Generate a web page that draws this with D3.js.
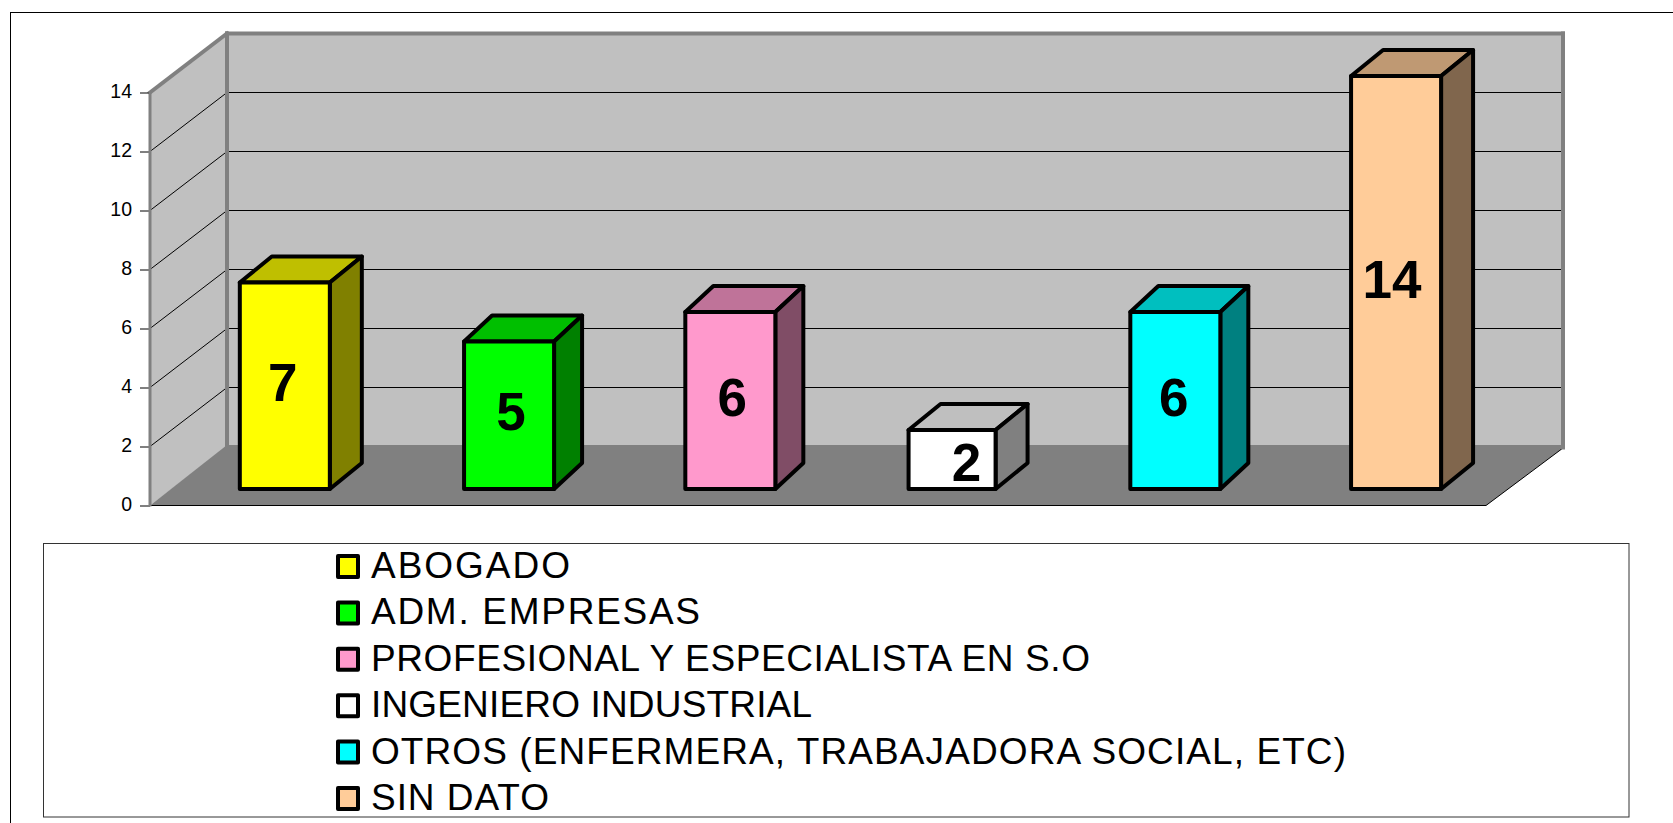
<!DOCTYPE html>
<html>
<head>
<meta charset="utf-8">
<script src="https://cdn.jsdelivr.net/npm/d3@7"></script>
<style>
  body { margin: 0; background: #fff; overflow: hidden; }
  text { font-family: "Liberation Sans", Arial, sans-serif; fill: #000; }
</style>
</head>
<body>
<div id="chart"></div>
<script>
const categories = ["ABOGADO", "ADM. EMPRESAS", "PROFESIONAL Y ESPECIALISTA EN S.O", "INGENIERO INDUSTRIAL", "OTROS (ENFERMERA, TRABAJADORA SOCIAL, ETC)", "SIN DATO"];
const values = [7, 5, 6, 2, 6, 14];
const colors = ["#ffff00", "#00ff00", "#ff99cc", "#ffffff", "#00ffff", "#ffcc99"];
const yTicks = [0, 2, 4, 6, 8, 10, 12, 14];

// layout
const wallDepth = { x: 77, y: -59 };   // front of the box to the back wall
const barPlane = { x: 23.7, y: -16.5 }; // where the bars stand on the floor
const barRise = -26;
const barNudge = [0, 2, 1, 2, 1.5, 0];        // source bars are unevenly spaced
const barTrim = [0, 0, 0, 3, 0, 0];           // the white bar is a little narrower
const barDepths = [32, 28, 28, 32, 28, 32];   // and the side faces differ a bit
const labelNudge = [-2, 2, 2, 13, -1.5, -4];  // the source labels are not quite centred
const labelLift = [0, 0, 0, 6, 0, 0];
const legendEnds = [570, 700, 1090, 812, 1346, 549]; // right end of each legend text

const svg = d3.select("#chart").append("svg").attr("width", 1673).attr("height", 823);

const x = d3.scaleBand().domain(categories).range([150, 1483.5]).paddingInner(0.595).paddingOuter(0.2975);
const y = d3.scaleLinear().domain([0, 14]).range([505.5, 92.5]);

const shade = (c, k) => {
  const r = d3.rgb(c);
  return d3.rgb(r.r * k, r.g * k, r.b * k).formatHex();
};
const poly = (pts) => "M" + pts.map((p) => p.join(",")).join("L") + "Z";

// outer frame runs off the page on the right and bottom
svg.append("rect").attr("x", 10.5).attr("y", 12.5).attr("width", 1700).attr("height", 900)
  .attr("fill", "#fff").attr("stroke", "#000").attr("stroke-width", 1);

const x0 = x.range()[0], x1 = 1486, y0 = y(0), yTop = y(14);
const dx = wallDepth.x, dy = wallDepth.y;
const floorBack = y0 + dy - 1.5;

// walls
svg.append("path").attr("d", poly([[x0, y0], [x0, yTop], [x0 + dx, yTop + dy], [x0 + dx, y0 + dy]])).attr("fill", "#c0c0c0");
svg.append("rect").attr("x", x0 + dx).attr("y", yTop + dy).attr("width", x1 - x0).attr("height", y0 - yTop).attr("fill", "#c0c0c0");

// floor
svg.append("path").attr("d", poly([[x0, y0], [x1, y0], [x1 + dx, y0 + dy + 1.5], [x1 + dx, floorBack], [x0 + dx, floorBack]])).attr("fill", "#808080");
svg.append("line").attr("x1", x0).attr("x2", x1).attr("y1", y0).attr("y2", y0).attr("stroke", "#000").attr("stroke-width", 1);
svg.append("line").attr("x1", x1).attr("x2", x1 + dx).attr("y1", y0).attr("y2", y0 + dy + 1.5).attr("stroke", "#000").attr("stroke-width", 1);

// gridlines on side wall and back wall
svg.append("g").selectAll("line").data(yTicks.slice(1)).join("line")
  .attr("x1", x0).attr("x2", x0 + dx)
  .attr("y1", (d) => y(d)).attr("y2", (d) => y(d) + dy)
  .attr("stroke", "#000").attr("stroke-width", 1);
svg.append("g").selectAll("line").data(yTicks.slice(1, -1)).join("line")
  .attr("x1", x0 + dx).attr("x2", x1 + dx)
  .attr("y1", (d) => y(d) + dy).attr("y2", (d) => y(d) + dy)
  .attr("stroke", "#000").attr("stroke-width", 1.2);

// wall edges
const edges = [
  [[x0 + dx, floorBack], [x0 + dx, yTop + dy]],
  [[x0, yTop], [x0 + dx, yTop + dy]],
  [[x0 + dx, yTop + dy], [x1 + dx, yTop + dy]],
  [[x1 + dx, yTop + dy], [x1 + dx, y0 + dy + 1]]
];
svg.append("g").selectAll("path").data(edges).join("path")
  .attr("d", (d) => "M" + d.join("L"))
  .attr("fill", "none").attr("stroke", "#808080").attr("stroke-width", 4).attr("stroke-linecap", "square");

// y axis
const axis = svg.append("g").attr("transform", "translate(" + x0 + ",0)")
  .call(d3.axisLeft(y).tickValues(yTicks).tickSize(10).tickPadding(8));
axis.select(".domain").remove();
axis.selectAll("line").attr("stroke", "#000").attr("stroke-width", 1);
axis.selectAll("text").attr("font-size", 19.5).attr("font-family", "Liberation Sans").attr("fill", "#000").attr("dy", "0.28em");
svg.append("line").attr("x1", x0).attr("x2", x0).attr("y1", yTop - 1).attr("y2", y0 + 1)
  .attr("stroke", "#808080").attr("stroke-width", 3);

// bars
const bars = svg.append("g").selectAll("g").data(categories).join("g")
  .attr("stroke", "#000").attr("stroke-width", 4).attr("stroke-linejoin", "round");
const left = (d, i) => x(d) + barPlane.x + barNudge[i];
const right = (d, i) => left(d, i) + x.bandwidth() - barTrim[i];
const base = y(0) + barPlane.y;
const top_ = (i) => y(values[i]) + barPlane.y;

bars.append("path")
  .attr("fill", (d, i) => shade(colors[i], 0.75))
  .attr("d", (d, i) => poly([[left(d, i), top_(i)], [right(d, i), top_(i)], [right(d, i) + barDepths[i], top_(i) + barRise], [left(d, i) + barDepths[i], top_(i) + barRise]]));
bars.append("path")
  .attr("fill", (d, i) => shade(colors[i], 0.5))
  .attr("d", (d, i) => poly([[right(d, i), top_(i)], [right(d, i) + barDepths[i], top_(i) + barRise], [right(d, i) + barDepths[i], base + barRise], [right(d, i), base]]));
bars.append("rect")
  .attr("fill", (d, i) => colors[i])
  .attr("x", left).attr("y", (d, i) => top_(i))
  .attr("width", (d, i) => right(d, i) - left(d, i)).attr("height", (d, i) => base - top_(i));

// value labels
svg.append("g").selectAll("text").data(values).join("text")
  .attr("x", (d, i) => left(categories[i], i) + x.bandwidth() / 2 + labelNudge[i])
  .attr("y", (d, i) => (top_(i) + base) / 2 + 15 + labelLift[i])
  .attr("text-anchor", "middle").attr("font-size", 53).attr("font-weight", "bold")
  .text((d) => d);

// legend
const legendY = d3.scalePoint().domain(categories).range([578, 810]);
svg.append("rect").attr("x", 43.5).attr("y", 543.5).attr("width", 1585.5).attr("height", 273.5)
  .attr("fill", "#fff").attr("stroke", "#333").attr("stroke-width", 1);
const rows = svg.append("g").selectAll("g").data(categories).join("g")
  .attr("transform", (d) => "translate(0," + legendY(d) + ")");
rows.append("rect").attr("x", 338).attr("y", -22).attr("width", 20).attr("height", 21)
  .attr("fill", (d, i) => colors[i]).attr("stroke", "#000").attr("stroke-width", 4).attr("stroke-linejoin", "round");
rows.append("text").attr("x", 371).attr("y", 0).attr("font-size", 37)
  .attr("textLength", (d, i) => legendEnds[i] - 371).attr("lengthAdjust", "spacing")
  .text((d) => d);
</script>
</body>
</html>
